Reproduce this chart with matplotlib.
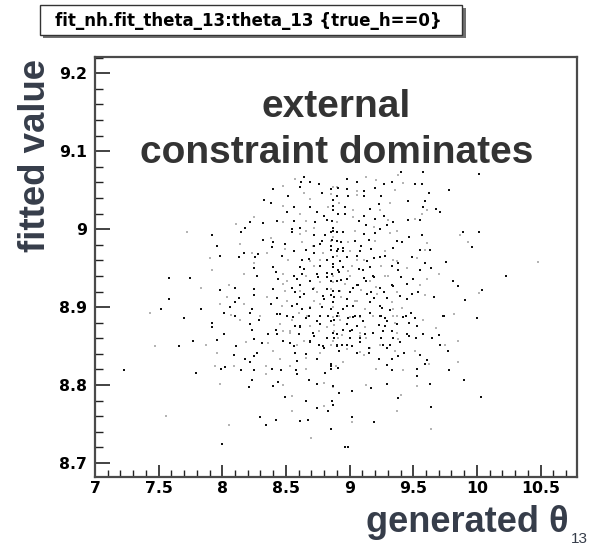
import matplotlib
matplotlib.use('Agg')
import matplotlib.pyplot as plt
from matplotlib.patches import Rectangle
from matplotlib.ticker import FixedLocator, MultipleLocator

# ---------------- data: (generated theta_13, fitted theta_13) ----------------
upper_left = [
(8.64,9.067),(8.62,9.061),(8.57,9.064),(8.69,9.060),(8.76,9.058),(8.48,9.056),(8.61,9.054),(8.40,9.051),
(8.64,9.047),(8.78,9.047),(8.85,9.052),(8.90,9.054),(8.33,9.038),(8.52,9.042),(8.69,9.039),(8.87,9.037),
(8.38,9.034),(8.48,9.030),(8.56,9.028),(8.69,9.028),(8.83,9.028),(8.87,9.024),(8.51,9.022),(8.61,9.020),
(8.74,9.022),(8.80,9.017),(8.25,9.015),(8.43,9.010),(8.56,9.011),(8.66,9.011),(8.73,9.009),(8.82,9.012),
(8.11,9.007),(8.22,9.009),(8.32,9.008),(8.48,9.009),(8.55,9.000),(8.61,9.002),(8.72,9.002),(8.87,9.002),
(8.18,9.002),(8.66,8.998),(8.85,8.996),(8.90,8.996),(7.72,8.997),(8.15,8.996),(8.55,8.996),(8.61,8.994),
(8.72,8.992),(8.81,8.992),(8.87,8.990),(7.92,8.992),(8.32,8.986),(8.38,8.989),(8.40,8.983),(8.49,8.981),
(8.63,8.983),(8.72,8.979),(8.77,8.981),(8.85,8.985),(8.93,8.983),(7.96,8.978),(8.14,8.981),(8.39,8.977),
(8.56,8.972),(8.49,8.974),(8.66,8.973),(8.72,8.970),(8.79,8.970),(8.85,8.973),(8.91,8.975),(8.23,8.970),
(8.17,8.970),(8.28,8.968),(8.35,8.969),(8.26,8.964),(7.98,8.965),(7.90,8.963),(8.13,8.964),(8.47,8.966),
(8.52,8.960),(8.63,8.960),(8.68,8.962),(8.77,8.960),(8.82,8.960),(8.87,8.964),(8.25,8.957),(8.40,8.951),
(8.64,8.949),(8.72,8.953),(8.87,8.951),(8.91,8.947),(7.92,8.948),(8.25,8.950),(8.42,8.945),(8.48,8.942),
(8.56,8.940),(8.63,8.942),(8.66,8.940),(8.74,8.942),(8.82,8.938),(8.87,8.940),(7.58,8.937),(7.75,8.937),
(8.17,8.943),(8.27,8.940),(8.44,8.936),(8.51,8.934),(8.59,8.936),(8.69,8.934),(8.77,8.932),(8.85,8.934),
(8.93,8.935),(8.05,8.928),(8.10,8.925),(7.98,8.922),(8.48,8.930),(8.55,8.925),(8.61,8.928),(8.72,8.925),
(8.82,8.923),(8.87,8.921),(7.83,8.925),(8.25,8.923),(8.40,8.923),(8.49,8.921),(8.57,8.919),(8.64,8.917),
(8.74,8.919),(8.85,8.915),(7.58,8.911),(8.04,8.913),(8.13,8.912),(8.25,8.915),(8.35,8.913),(8.43,8.912),
(8.61,8.913),(8.72,8.908),(8.80,8.910),(8.87,8.906),(8.93,8.913),(7.52,8.898),(7.83,8.898),(7.98,8.904),
(8.06,8.900),(8.10,8.906),(8.17,8.904),(8.23,8.898),(8.38,8.904),(8.47,8.902),(8.55,8.902),(8.63,8.898),
(8.69,8.900),(8.78,8.900),(8.85,8.898),(7.43,8.893),(7.70,8.886),(8.01,8.893),(8.07,8.890),(8.10,8.888),
(8.22,8.892),(8.30,8.889),(8.43,8.891),(8.51,8.889),(8.60,8.893),(8.68,8.888),(8.77,8.889),(8.87,8.887),
(8.91,8.893),
]

upper_right = [
(9.40,9.074),(9.38,9.069),(9.58,9.073),(10.02,9.071),(9.13,9.067),(8.98,9.064),(9.06,9.061),(9.21,9.063),
(9.27,9.058),(9.33,9.060),(9.42,9.059),(9.51,9.058),(9.57,9.058),(8.87,9.054),(8.91,9.053),(8.98,9.052),
(9.06,9.049),(9.11,9.049),(9.20,9.053),(9.36,9.050),(9.78,9.050),(9.62,9.047),(8.85,9.045),(8.90,9.043),
(8.99,9.043),(9.06,9.044),(9.11,9.042),(9.25,9.042),(9.32,9.034),(9.46,9.036),(9.59,9.036),(8.92,9.034),
(8.87,9.030),(8.96,9.028),(9.03,9.025),(9.16,9.026),(9.23,9.032),(9.24,9.024),(9.27,9.017),(9.58,9.029),
(9.61,9.024),(9.68,9.026),(9.71,9.022),(9.57,9.020),(8.91,9.020),(8.96,9.020),(9.03,9.015),(9.11,9.017),
(9.20,9.013),(9.30,9.012),(9.34,9.009),(9.46,9.012),(9.51,9.013),(9.55,9.012),(8.86,9.011),(8.90,9.009),
(9.07,9.010),(9.13,9.005),(9.19,9.003),(9.24,9.000),(9.29,9.005),(9.37,8.998),(8.87,8.998),(8.95,8.996),
(9.04,8.998),(9.11,8.994),(9.20,8.995),(9.32,8.995),(9.47,8.990),(9.57,8.992),(9.87,8.992),(9.89,8.996),
(10.02,8.996),(9.93,8.983),(9.96,8.977),(8.90,8.985),(8.99,8.983),(9.04,8.985),(9.15,8.986),(9.20,8.985),
(9.37,8.985),(9.41,8.983),(9.61,8.982),(8.85,8.979),(8.95,8.976),(9.00,8.972),(9.09,8.978),(9.17,8.975),
(9.28,8.972),(9.34,8.976),(9.55,8.973),(9.59,8.973),(9.63,8.973),(8.90,8.972),(8.90,8.966),(8.98,8.964),
(9.06,8.966),(9.11,8.960),(9.19,8.963),(9.28,8.966),(9.34,8.960),(9.38,8.957),(9.49,8.964),(9.53,8.963),
(9.59,8.957),(9.76,8.958),(10.48,8.958),(8.87,8.955),(8.95,8.952),(9.02,8.953),(9.07,8.949),(9.16,8.952),
(9.25,8.953),(9.33,8.953),(9.38,8.947),(9.45,8.950),(9.55,8.948),(9.64,8.950),(9.70,8.943),(8.86,8.942),
(8.92,8.945),(9.00,8.940),(9.11,8.937),(9.19,8.938),(9.28,8.940),(9.40,8.938),(9.50,8.936),(9.61,8.936),
(10.23,8.940),(8.90,8.934),(8.96,8.930),(9.06,8.929),(9.13,8.934),(9.21,8.926),(9.33,8.928),(9.45,8.930),
(9.55,8.929),(9.85,8.927),(9.81,8.933),(8.85,8.923),(8.92,8.921),(9.00,8.920),(9.09,8.922),(9.17,8.919),
(9.27,8.920),(9.37,8.919),(9.49,8.917),(9.54,8.920),(9.59,8.915),(9.66,8.913),(10.04,8.922),(10.02,8.918),
(8.88,8.913),(8.98,8.910),(9.04,8.908),(9.19,8.912),(9.24,8.902),(9.33,8.906),(9.45,8.910),(9.91,8.909),
(8.87,8.900),(8.95,8.898),(9.03,8.901),(9.12,8.898),(9.16,8.893),(9.32,8.896),(9.41,8.899),(9.48,8.893),
(8.90,8.889),(9.00,8.887),(9.08,8.888),(9.24,8.888),(9.34,8.889),(9.42,8.887),(9.74,8.889),(9.82,8.891),
]

lower_left = [
(7.92,8.880),(7.92,8.875),(8.14,8.883),(8.22,8.878),(8.29,8.883),(8.45,8.878),(8.57,8.876),(8.61,8.876),
(8.69,8.876),(8.77,8.878),(8.85,8.882),(8.55,8.883),(8.66,8.886),(8.42,8.871),(8.48,8.869),(8.36,8.865),
(8.43,8.865),(8.53,8.867),(8.60,8.865),(8.72,8.863),(8.76,8.869),(8.82,8.861),(8.87,8.867),(8.91,8.861),
(8.01,8.865),(8.23,8.871),(7.47,8.850),(7.66,8.850),(7.77,8.857),(7.87,8.852),(7.96,8.858),(8.11,8.850),
(8.19,8.855),(8.25,8.859),(8.31,8.854),(8.36,8.854),(8.53,8.854),(8.56,8.850),(8.64,8.856),(8.69,8.856),
(8.76,8.852),(8.85,8.852),(8.90,8.852),(8.80,8.848),(7.96,8.841),(8.09,8.839),(8.27,8.841),(8.40,8.844),
(8.57,8.841),(8.66,8.840),(8.77,8.841),(8.25,8.837),(8.18,8.834),(8.66,8.835),(8.74,8.833),(8.22,8.829),
(8.45,8.833),(8.59,8.831),(8.85,8.827),(8.89,8.824),(7.23,8.819),(7.79,8.816),(7.94,8.824),(7.99,8.821),
(8.02,8.823),(8.09,8.824),(8.15,8.819),(8.25,8.819),(8.34,8.824),(8.39,8.821),(8.46,8.819),(8.53,8.824),
(8.58,8.819),(8.59,8.814),(8.66,8.821),(8.81,8.816),(8.85,8.820),(7.98,8.801),(8.21,8.797),(8.23,8.806),
(8.34,8.814),(8.40,8.799),(8.44,8.804),(8.48,8.800),(8.68,8.806),(8.74,8.801),(8.80,8.802),(8.87,8.799),
(8.49,8.785),(8.55,8.786),(8.66,8.779),(8.74,8.770),(8.80,8.773),(8.83,8.767),(8.87,8.775),(7.56,8.760),
(8.30,8.759),(8.42,8.755),(8.55,8.767),(8.61,8.754),(8.67,8.755),(8.05,8.749),(8.34,8.749),(8.85,8.744),
(8.70,8.732),(8.00,8.724),
]

lower_right = [
(8.88,8.883),(8.92,8.889),(8.99,8.886),(9.04,8.889),(9.08,8.887),(9.25,8.889),(9.28,8.886),(9.37,8.889),
(9.44,8.889),(9.51,8.886),(9.58,8.883),(9.73,8.889),(10.00,8.886),(8.88,8.877),(8.98,8.878),(9.06,8.876),
(9.12,8.874),(9.23,8.877),(9.28,8.876),(9.36,8.880),(9.47,8.879),(9.53,8.876),(8.88,8.869),(8.95,8.870),
(9.02,8.870),(9.08,8.867),(9.12,8.865),(9.33,8.869),(9.37,8.867),(9.47,8.863),(9.58,8.865),(9.68,8.873),
(9.70,8.864),(8.88,8.861),(8.94,8.864),(9.00,8.861),(9.08,8.861),(9.13,8.860),(9.25,8.860),(9.34,8.861),
(9.38,8.859),(9.52,8.860),(9.65,8.860),(9.85,8.857),(8.90,8.850),(8.94,8.852),(8.98,8.846),(9.02,8.850),
(9.06,8.841),(9.08,8.843),(9.15,8.847),(9.15,8.841),(9.24,8.852),(9.29,8.847),(9.32,8.852),(9.36,8.844),
(9.38,8.837),(9.43,8.841),(9.51,8.844),(9.55,8.839),(9.71,8.852),(9.75,8.851),(9.77,8.844),(8.92,8.844),
(9.11,8.839),(9.23,8.834),(9.33,8.834),(8.95,8.829),(8.85,8.824),(8.91,8.822),(9.21,8.821),(9.29,8.826),
(9.33,8.819),(9.42,8.819),(9.53,8.820),(9.59,8.827),(9.62,8.827),(9.61,8.832),(9.78,8.819),(9.85,8.829),
(9.53,8.812),(9.90,8.806),(8.87,8.797),(8.92,8.790),(9.02,8.793),(9.13,8.800),(9.17,8.796),(9.29,8.801),
(9.53,8.799),(9.63,8.801),(9.38,8.783),(9.40,8.787),(10.03,8.785),(8.86,8.779),(9.37,8.767),(9.64,8.772),
(9.02,8.759),(9.02,8.752),(9.19,8.752),(8.85,8.744),(9.64,8.744),(8.96,8.721),(8.99,8.720),
]

core = [
(8.715,8.979),(8.781,8.985),(8.859,8.986),(9.042,8.985),(8.951,8.972),(9.082,8.972),(8.689,8.959),(8.767,8.953),
(8.925,8.959),(9.055,8.961),(9.134,8.959),(9.239,8.964),(9.370,8.959),(8.610,8.951),(8.820,8.944),(8.990,8.946),
(9.108,8.947),(9.186,8.940),(9.304,8.940),(8.689,8.934),(8.754,8.938),(8.872,8.932),(8.977,8.936),(9.069,8.929),
(9.160,8.934),(9.239,8.925),(9.343,8.927),(8.610,8.921),(8.715,8.923),(8.794,8.914),(8.925,8.921),(9.029,8.925),
(9.134,8.917),(9.212,8.917),(9.291,8.912),(9.396,8.914),(8.506,8.908),(8.584,8.904),(8.689,8.899),(8.767,8.904),
(8.872,8.906),(8.977,8.902),(9.055,8.908),(9.160,8.906),(9.252,8.899),(9.343,8.897),(8.453,8.891),(8.558,8.887),
(8.663,8.889),(8.741,8.882),(8.833,8.889),(8.925,8.884),(9.029,8.887),(9.108,8.882),(9.186,8.889),(9.291,8.882),
(9.370,8.878),(8.532,8.869),(8.610,8.874),(8.715,8.867),(8.820,8.874),(8.898,8.865),(9.003,8.869),(9.082,8.863),
(9.186,8.867),(9.265,8.869),(9.343,8.861),(9.448,8.865),(8.480,8.857),(8.584,8.852),(8.689,8.855),(8.794,8.850),
(8.872,8.857),(8.977,8.852),(9.082,8.855),(9.160,8.848),(9.265,8.852),(9.396,8.855),
]

x_ticks = [7, 7.5, 8, 8.5, 9, 9.5, 10, 10.5]
x_tick_labels = ["7", "7.5", "8", "8.5", "9", "9.5", "10", "10.5"]
y_ticks = [8.7, 8.8, 8.9, 9.0, 9.1, 9.2]
y_tick_labels = ["8.7", "8.8", "8.9", "9", "9.1", "9.2"]
x_range = (7.0, 10.784)
y_range = (8.6824, 9.2213)

title_text = "fit_nh.fit_theta_13:theta_13 {true_h==0}"
note_lines = ["external", "constraint dominates"]
y_title = "fitted value"
x_title = "generated \u03b8"
x_title_sub = "13"

# ---------------- figure ----------------
W, H = 591, 547
fig = plt.figure(figsize=(W / 100, H / 100), dpi=100)
fig.patch.set_facecolor('white')


def fx(px):
    return px / W


def fy(py):
    return 1 - py / H


ax = fig.add_axes([fx(95), fy(476.7), fx(576.7) - fx(95), fy(56.7) - fy(476.7)])
ax.set_xlim(*x_range)
ax.set_ylim(*y_range)

pts = upper_left + upper_right + lower_left + lower_right + core
dark_x = [p[0] for i, p in enumerate(pts) if i % 3 != 2]
dark_y = [p[1] for i, p in enumerate(pts) if i % 3 != 2]
light_x = [p[0] for i, p in enumerate(pts) if i % 3 == 2]
light_y = [p[1] for i, p in enumerate(pts) if i % 3 == 2]
ax.plot(light_x, light_y, ls='none', marker='s', ms=1.7, mew=0, color='#b4b4b4')
ax.plot(dark_x, dark_y, ls='none', marker='s', ms=1.8, mew=0, color='#101010')

ax.xaxis.set_major_locator(FixedLocator(x_ticks))
ax.xaxis.set_minor_locator(MultipleLocator(0.1))
ax.yaxis.set_major_locator(FixedLocator(y_ticks))
ax.yaxis.set_minor_locator(MultipleLocator(0.02))
ax.set_xticklabels(x_tick_labels, fontfamily='DejaVu Sans', fontweight='bold', fontsize=11.3)
ax.set_yticklabels(y_tick_labels, fontfamily='DejaVu Sans', fontweight='bold', fontsize=11.3)

ax.tick_params(axis='x', which='major', direction='in', length=8.6, width=1.2, color='#222222', pad=3)
ax.tick_params(axis='x', which='minor', direction='in', length=5.0, width=1.0, color='#222222')
ax.tick_params(axis='y', which='major', direction='in', length=10.8, width=1.2, color='#222222', pad=6)
ax.tick_params(axis='y', which='minor', direction='in', length=5.8, width=1.0, color='#222222')
ax.tick_params(top=False, right=False, which='both')

for s in ax.spines.values():
    s.set_color('#4a4a4a')
    s.set_linewidth(1.6)

# title pave with shadow
fig.patches.append(Rectangle((fx(42.5), fy(38)), fx(463) - fx(40), fy(5) - fy(35),
                             transform=fig.transFigure, facecolor='#707070', edgecolor='none', zorder=1))
fig.patches.append(Rectangle((fx(40), fy(35)), fx(462) - fx(40), fy(5) - fy(35),
                             transform=fig.transFigure, facecolor='white', edgecolor='#333333',
                             linewidth=1.0, zorder=2))
fig.text(fx(55), fy(20.5), title_text, fontfamily='DejaVu Sans', fontweight='bold', fontsize=12,
         ha='left', va='center', color='black', zorder=3)

# annotation
fig.text(fx(336), fy(107), note_lines[0], fontfamily='Liberation Sans', fontweight='bold', fontsize=28,
         ha='center', va='center', color='#333333')
fig.text(fx(337), fy(153), note_lines[1], fontfamily='Liberation Sans', fontweight='bold', fontsize=28,
         ha='center', va='center', color='#333333')

lab_color = '#363d4a'
fig.text(fx(45), fy(155), y_title, rotation=90, rotation_mode='anchor', ha='center', va='baseline',
         fontfamily='Liberation Sans', fontweight='bold', fontsize=26.4, color=lab_color)
fig.text(fx(366), fy(531.5), x_title, ha='left', va='baseline',
         fontfamily='Liberation Sans', fontweight='bold', fontsize=26, color=lab_color)
fig.text(fx(571), fy(543), x_title_sub, ha='left', va='baseline',
         fontfamily='Liberation Sans', fontsize=11, color=lab_color)

fig.savefig('out.png', dpi=100, facecolor='white')
